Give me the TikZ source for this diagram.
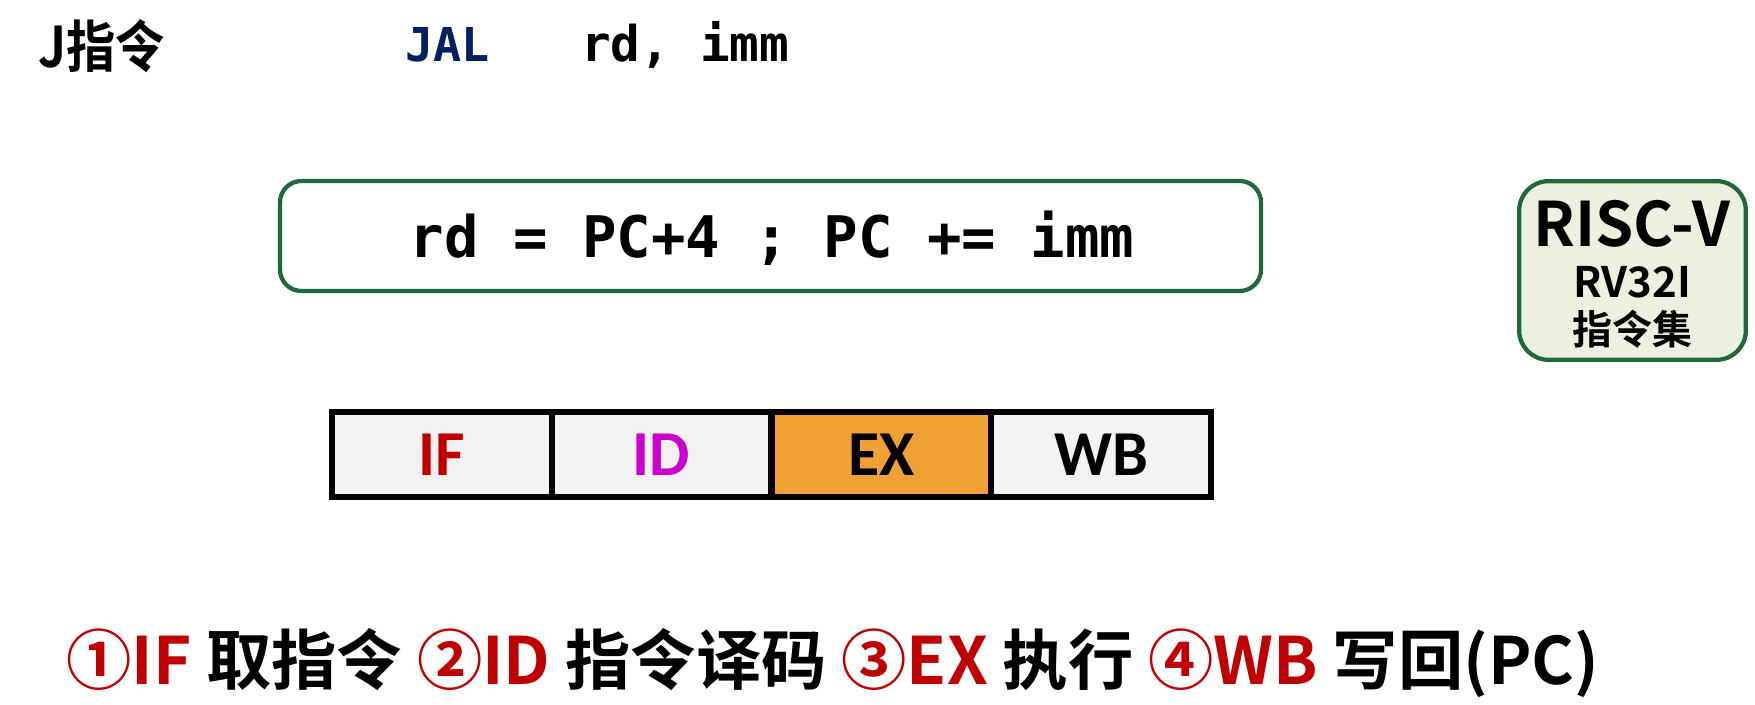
\documentclass[tikz,border=0pt]{standalone}
\usepackage{fontspec}
\newfontfamily\cjk{Noto Sans CJK SC}[BoldFont={* Bold}]
\newfontfamily\calfont{Carlito}
\setmonofont{DejaVu Sans Mono}
\definecolor{dgreen}{RGB}{30,104,60}
\definecolor{lgreen}{RGB}{235,241,222}
\definecolor{navy}{RGB}{0,32,96}
\definecolor{myred}{RGB}{192,0,0}
\definecolor{mymag}{RGB}{204,0,204}
\definecolor{myorange}{RGB}{241,161,52}
\definecolor{lgray}{RGB}{242,242,242}
\tikzset{
  stage/.style={draw=black,line width=4.5pt,minimum width=164.8pt,minimum height=63.75pt,inner sep=0pt,fill=lgray,font=\calfont\bfseries\fontsize{48}{48}\selectfont},
  greenbox/.style={draw=dgreen,line width=3.2pt,rounded corners=16pt,inner sep=0pt}
}
\begin{document}
\begin{tikzpicture}[x=0.75pt,y=-0.75pt]
\useasboundingbox (0,0) rectangle (1755,705);
\node[anchor=west,inner sep=0pt,xscale=0.88,font=\cjk\bfseries\fontsize{42}{42}\selectfont] (title) at (38,46) {J指令};
\node[anchor=west,inner sep=0pt,text=navy,font=\ttfamily\bfseries\fontsize{35}{35}\selectfont] (jal) at (405,45) {JAL};
\node[anchor=west,inner sep=0pt,font=\ttfamily\bfseries\fontsize{37}{37}\selectfont] (ops) at (581,45) {rd, imm};
\node[greenbox,minimum width=735.75pt,minimum height=82.5pt] (eq) at (770.5,236) {};
\node[inner sep=0pt,font=\ttfamily\bfseries\fontsize{43}{43}\selectfont] (eqt) at (772,238) {rd = PC+4 ; PC += imm};
\node[greenbox,fill=lgreen,rounded corners=22pt,minimum width=170pt,minimum height=134pt] (isa) at (1632.5,270.5) {};
\node[inner sep=0pt,font=\cjk\bfseries\fontsize{46}{46}\selectfont] (risc) at (1632,224) {RISC-V};
\node[inner sep=0pt,font=\cjk\bfseries\fontsize{31.5}{31.5}\selectfont] (rv) at (1632,282) {RV32I};
\node[inner sep=0pt,font=\cjk\bfseries\fontsize{30}{30}\selectfont] (set) at (1632,329) {指令集};
\node[stage,text=myred] (if) at (441.9,454.5) {IF};
\node[stage,text=mymag] (id) at (661.6,454.5) {ID};
\node[stage,fill=myorange] (ex) at (881.4,454.5) {EX};
\node[stage] (wb) at (1101.1,454.5) {WB};
\node[anchor=west,inner sep=0pt,font=\cjk\bfseries\fontsize{49}{49}\selectfont] (steps) at (66,663)
  {\textcolor{myred}{①IF} 取指令 \textcolor{myred}{②ID} 指令译码 \textcolor{myred}{③EX} 执行 \textcolor{myred}{④WB} 写回(PC)};
\end{tikzpicture}
\end{document}
